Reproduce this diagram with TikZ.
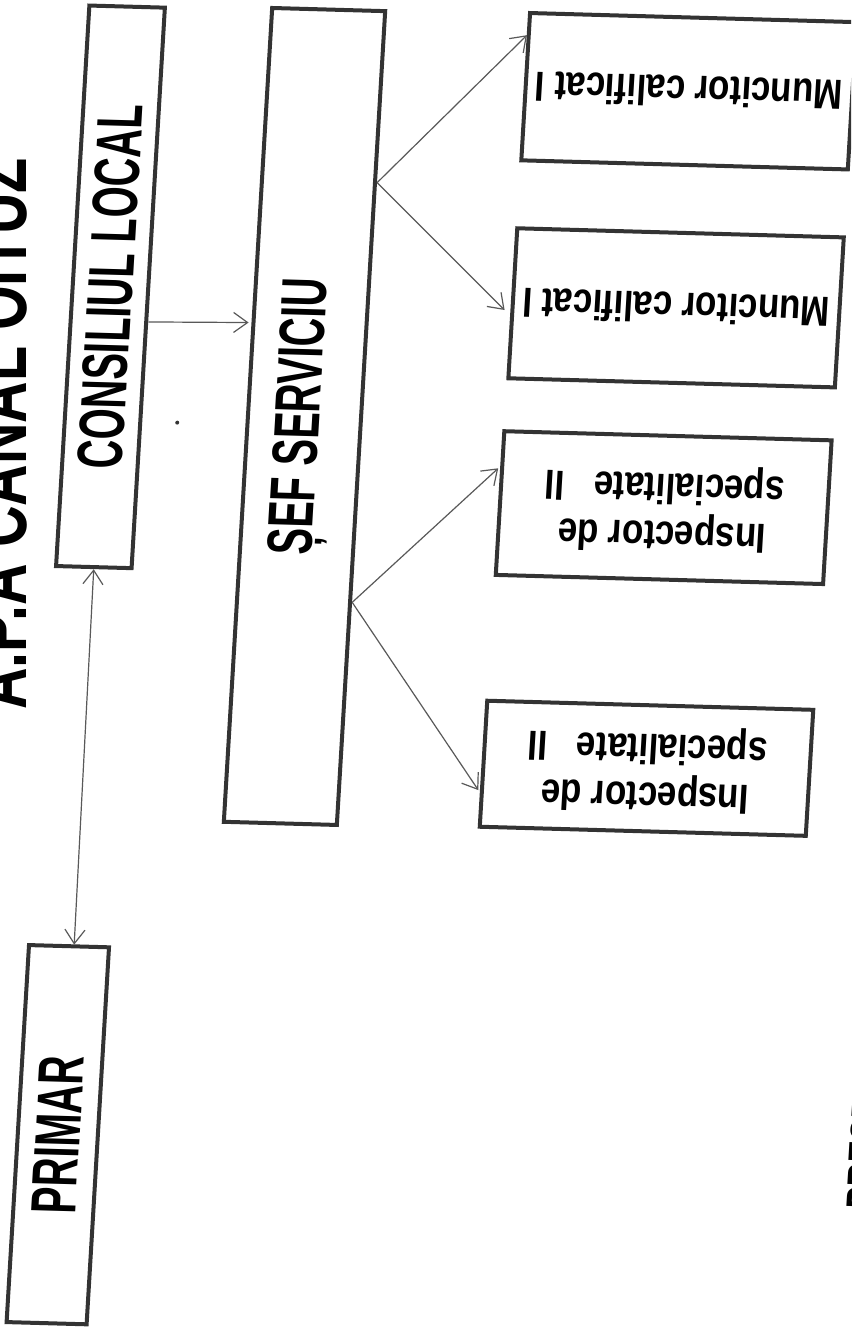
\documentclass[tikz,border=0pt]{standalone}
\usepackage{fontspec}
\setmainfont{Liberation Sans}
\usepackage{graphicx}
\usetikzlibrary{arrows.meta,calc}

\begin{document}
\begin{tikzpicture}[
    x=1pt, y=-1pt,
    >={Straight Barb[length=14pt,width=20pt]},
    box/.style={draw=black!80, line width=4pt, inner sep=0pt},
    vtext/.style={font=\fontsize{40}{48}\selectfont\bfseries},
    htext/.style={font=\fontsize{35}{40}\selectfont\bfseries},
    link/.style={draw=black!65, line width=1.2pt},
]

% Page
\useasboundingbox (0,0) rectangle (851,1327);
\fill[white] (0,0) rectangle (851,1327);
\clip (0,0) rectangle (851,1327);

% Title (cut by the page edge)
\node[anchor=north east, inner sep=0pt, font=\fontsize{57.5}{60}\selectfont\bfseries] (title) at (27,158)
    {\rotatebox{90}{\scalebox{1}[1.4]{A.P.A CANAL OITUZ}}};

\begin{scope}[cm={1,-0.0279,0.0594,1,(0,0)}, every node/.append style={transform shape}]

% Left column
\node[box, vtext, minimum width=75.5, minimum height=560.5] (cons) at (127.3,283.3)
    {\rotatebox{90}{\scalebox{1}[1.6]{CONSILIUL LOCAL}}};
\node[box, vtext, minimum width=80, minimum height=377] (primar) at (125,1131.2)
    {\rotatebox{90}{\scalebox{1}[1.6]{PRIMAR}}};

% Middle column
\node[box, vtext, minimum width=113, minimum height=813.8] (sef) at (328.7,407.3)
    {\rotatebox{90}{\scalebox{1}[1.6]{ȘEF SERVICIU}}};

% Right column
\node[box, htext, minimum width=326.5, minimum height=147.3] (munc1) at (693.2,71.9)
    {\rotatebox{180}{\scalebox{1}[1.2]{Muncitor calificat I}}};
\node[box, htext, minimum width=326.5, minimum height=150] (munc2) at (693.2,288.5)
    {\rotatebox{180}{\scalebox{1}[1.2]{Muncitor calificat I}}};
\node[box, htext, minimum width=327.3, minimum height=143.7] (insp1) at (692.7,488.3)
    {\rotatebox{180}{\scalebox{1}[1.2]{\begin{tabular}{@{}c@{}}Inspector de\\specialitate\ \ \ II\end{tabular}}}};
\node[box, htext, minimum width=326, minimum height=126] (insp2) at (691,749)
    {\rotatebox{180}{\scalebox{1}[1.2]{\begin{tabular}{@{}c@{}}Inspector de\\specialitate\ \ \ II\end{tabular}}}};

% Footer (cut by the page edge)
\node[anchor=south west, inner sep=0pt, font=\fontsize{33}{36}\selectfont\bfseries] (pres) at (916,1183.5)
    {\rotatebox{90}{\scalebox{1}[1.4]{PREȘEDINTE}}};

% Speck
\fill[black!80] (202,417) circle (2);

% Connection points
\coordinate (consR) at ($(cons.north east)!0.56!(cons.south east)$);
\coordinate (sefL)  at ($(sef.north west)!0.387!(sef.south west)$);
\coordinate (primT) at ($(primar.north west)!0.56!(primar.north east)$);
\coordinate (sefA)  at ($(sef.north east)!0.212!(sef.south east)$);
\coordinate (sefB)  at ($(sef.north east)!0.725!(sef.south east)$);
\coordinate (m1L)   at ($(munc1.north west)!0.16!(munc1.south west)$);
\coordinate (m2L)   at ($(munc2.north west)!0.58!(munc2.south west)$);
\coordinate (i1L)   at ($(insp1.north west)!0.25!(insp1.south west)$);
\coordinate (i2L)   at ($(insp2.north west)!0.72!(insp2.south west)$);

% Arrows
\draw[link, <->] (cons.south) -- (primT);
\draw[link, ->, shorten >=3pt] (consR) -- (sefL);
\draw[link, ->] (sefA) -- (m1L);
\draw[link, ->, shorten >=8pt] (sefA) -- (m2L);
\draw[link, ->, shorten >=3pt] (sefB) -- (i1L);
\draw[link, ->, shorten >=3pt] (sefB) -- (i2L);

\end{scope}

\end{tikzpicture}
\end{document}
